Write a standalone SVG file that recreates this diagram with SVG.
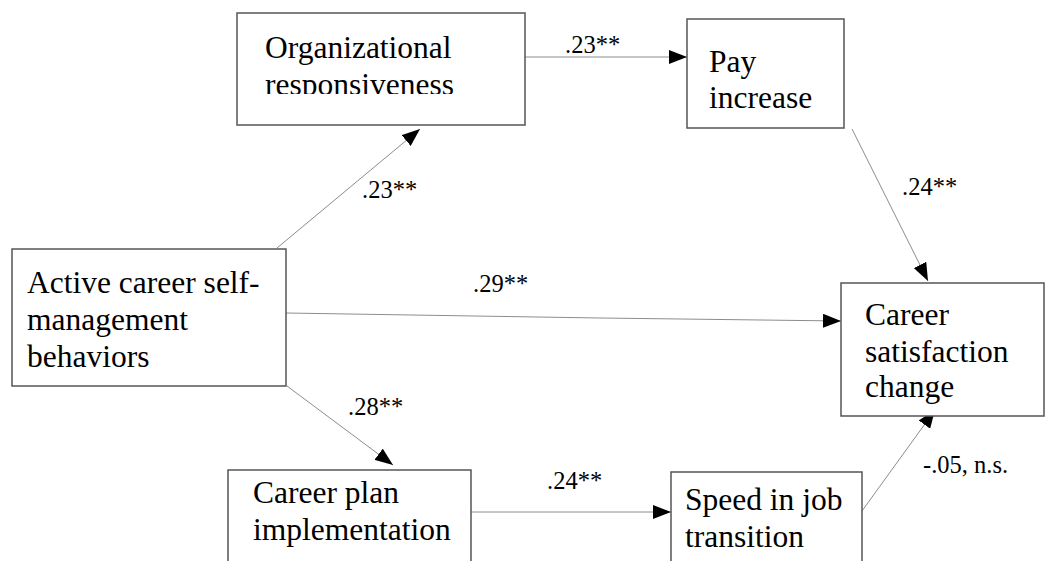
<svg xmlns="http://www.w3.org/2000/svg" width="1045" height="561" viewBox="0 0 1045 561">
  <style>
    .box { fill: #ffffff; stroke: #555555; stroke-width: 1.5; }
    .node-text { font-family: "Liberation Serif", "Times New Roman", serif; font-size: 31.5px; fill: #000000; }
    .edge { fill: none; stroke: #8c8c8c; stroke-width: 1; marker-end: url(#arrow); }
    .edge-label { font-family: "Liberation Serif", "Times New Roman", serif; font-size: 24.5px; fill: #000000; }
  </style>
  <defs>
    <marker id="arrow" markerUnits="userSpaceOnUse" markerWidth="18" markerHeight="14" refX="18" refY="7" orient="auto">
      <path d="M0,0 L18,7 L0,14 z" fill="#000000"/>
    </marker>
    <clipPath id="clip-org">
      <rect x="237" y="13" width="288" height="81"/>
    </clipPath>
  </defs>
  <rect width="1045" height="561" fill="#ffffff"/>

  <g id="connectors">
    <line class="edge" x1="525" y1="57" x2="687" y2="57"/>
    <line class="edge" x1="277" y1="248" x2="420" y2="129"/>
    <line class="edge" x1="852" y1="129" x2="928" y2="281"/>
    <path class="edge" d="M286,313 L600,318 L841,321"/>
    <line class="edge" x1="287" y1="386" x2="393" y2="465"/>
    <line class="edge" x1="471" y1="512" x2="671" y2="512"/>
    <line class="edge" x1="862" y1="511" x2="935" y2="410"/>
    <text class="edge-label" x="565" y="53">.23**</text>
    <text class="edge-label" x="362" y="198">.23**</text>
    <text class="edge-label" x="902" y="195">.24**</text>
    <text class="edge-label" x="473" y="292">.29**</text>
    <text class="edge-label" x="348" y="415">.28**</text>
    <text class="edge-label" x="547" y="489">.24**</text>
    <text class="edge-label" x="923" y="473">-.05, n.s.</text>
  </g>

  <g id="node-org">
    <rect class="box" x="237" y="13" width="288" height="112"/>
    <g clip-path="url(#clip-org)">
      <text class="node-text" x="265" y="58">Organizational</text>
      <text class="node-text" x="265" y="95">responsiveness</text>
    </g>
  </g>

  <g id="node-pay">
    <rect class="box" x="687" y="19" width="157" height="109"/>
    <text class="node-text" x="709" y="72">Pay</text>
    <text class="node-text" x="709" y="108">increase</text>
  </g>

  <g id="node-active">
    <rect class="box" x="12" y="249" width="274" height="137"/>
    <text class="node-text" x="27" y="293">Active career self-</text>
    <text class="node-text" x="27" y="330">management</text>
    <text class="node-text" x="27" y="367">behaviors</text>
  </g>

  <g id="node-satisfaction">
    <rect class="box" x="841" y="283" width="203" height="133"/>
    <text class="node-text" x="865" y="325">Career</text>
    <text class="node-text" x="865" y="362">satisfaction</text>
    <text class="node-text" x="865" y="397">change</text>
  </g>

  <g id="node-plan">
    <rect class="box" x="228" y="470" width="243" height="110"/>
    <text class="node-text" x="253" y="503">Career plan</text>
    <text class="node-text" x="253" y="540">implementation</text>
  </g>

  <g id="node-speed">
    <rect class="box" x="671" y="472" width="191" height="110"/>
    <text class="node-text" x="685" y="510">Speed in job</text>
    <text class="node-text" x="685" y="547">transition</text>
  </g>
</svg>
